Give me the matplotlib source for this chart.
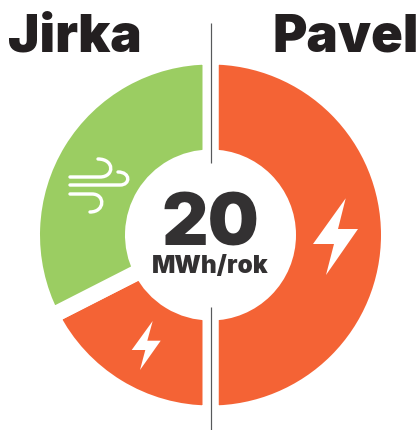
import numpy as np
import matplotlib
matplotlib.use("Agg")
import matplotlib.pyplot as plt
from matplotlib.patches import Polygon
from matplotlib.path import Path
from matplotlib.patches import PathPatch

# data
people = ["Jirka", "Pavel"]
total_value = "20"
unit_label = "MWh/rok"
slice_values = [10.0, 3.5, 6.5]   # Pavel grid, Jirka grid, Jirka wind (MWh/rok)
slice_colors = ["#F46335", "#F46335", "#9BCD62"]

W, H = 419, 430
DARK = "#231F20"
FONT = ["Inter", "DejaVu Sans"]
px = 0.72  # px -> pt at dpi 100

fig = plt.figure(figsize=(W / 100, H / 100), dpi=100)
ax = fig.add_axes([0, 0, 1, 1])

def Y(y):
    return H - y

cx, cy = 210.5, 235.0
R_out, R_in, gap = 170.5, 85.5, 16.0
ax.pie(slice_values, colors=slice_colors, startangle=90, counterclock=False,
       center=(cx, Y(cy)), radius=R_out + gap / 2,
       wedgeprops=dict(width=R_out - R_in + gap, edgecolor="white",
                       linewidth=gap * px, joinstyle="miter"))
ax.set_xlim(0, W)
ax.set_ylim(0, H)
ax.set_aspect("auto")
ax.axis("off")

# centre divider
ax.plot([cx, cx], [Y(23), Y(163)], color="#58595B", lw=1.2 * px, solid_capstyle="butt")
ax.plot([cx, cx], [Y(307), Y(430)], color="#58595B", lw=1.2 * px, solid_capstyle="butt")

# bolts
big_bolt = [(345.7, 198.3), (338, 229), (358, 229), (326, 275), (334, 244), (313, 244)]
small_bolt = [(152.7, 321), (147.3, 340.7), (160.7, 340.7), (140, 370), (145.3, 350), (131.7, 350)]
for b in (big_bolt, small_bolt):
    ax.add_patch(Polygon([(x, Y(y)) for x, y in b], closed=True, fc="white", ec="none", zorder=4))

# wind icon
def gust(x0, x1, y0, y_end, x_max):
    k = (x_max - x1) * 4 / 3
    verts = [(x0, y0), (x1, y0), (x1 + k, y0), (x1 + k, y_end), (x1 - 2, y_end)]
    codes = [Path.MOVETO, Path.LINETO, Path.CURVE4, Path.CURVE4, Path.CURVE4]
    p = Path([(x, Y(y)) for x, y in verts], codes)
    ax.add_patch(PathPatch(p, fc="none", ec="white", lw=3.4 * px, capstyle="round", zorder=4))

gust(70, 100, 177, 159, 111)
gust(70, 120, 185, 172, 128)
gust(70, 92, 194, 212, 102)

# text
ax.text(8, Y(52), people[0], fontsize=53 * px, fontweight=900, family=FONT, color=DARK,
        ha="left", va="baseline")
ax.text(272.5, Y(52), people[1], fontsize=52.5 * px, fontweight=900, family=FONT, color=DARK,
        ha="left", va="baseline")
ax.text(cx, Y(245.5), total_value, fontsize=72 * px, fontweight=900, family=FONT, color="#333132",
        ha="center", va="baseline")
ax.text(cx, Y(273.5), unit_label, fontsize=24.5 * px, fontweight=900, family=FONT, color="#333132",
        ha="center", va="baseline")

fig.savefig("out.png", dpi=100)
